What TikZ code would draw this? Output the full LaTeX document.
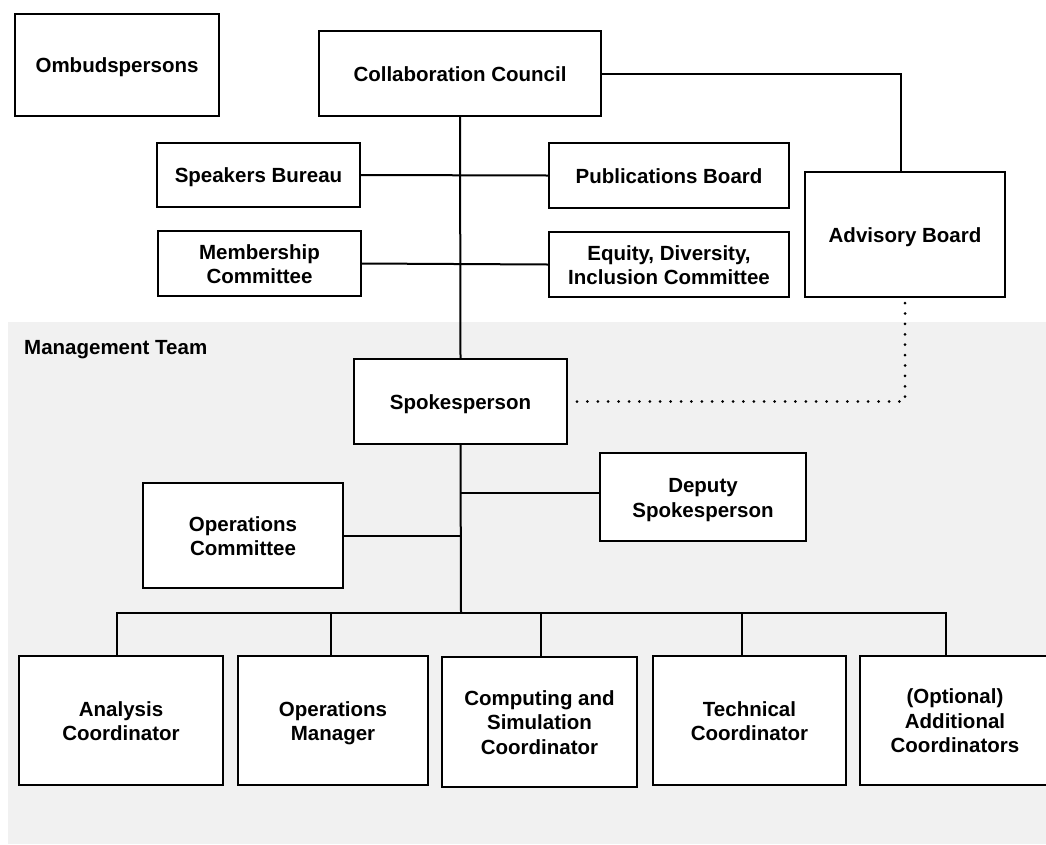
\documentclass[tikz,border=0pt]{standalone}
\usepackage{fontspec}
\setmainfont{Liberation Sans}
\definecolor{mgmtbg}{HTML}{F1F1F1}
\newcommand{\tpad}{\rule{0pt}{23.15pt}}
\begin{document}
\begin{tikzpicture}[x=1pt,y=-1pt,
  box/.style={draw, line width=2pt, fill=white, align=center, inner sep=0pt,
    font=\bfseries\fontsize{20.5}{24.5}\selectfont},
  conn/.style={line width=2pt},
  dotline/.style={line width=3pt, line cap=round, dash pattern=on 0pt off 10.4pt},
  lbl/.style={font=\bfseries\fontsize{20.5}{24.5}\selectfont, inner sep=0pt}
]
\useasboundingbox (0,0) rectangle (1046,844);
\fill[mgmtbg] (8,322) rectangle (1046,844);
\node[lbl, anchor=west] (mt) at (24,350) {Management Team};

% upper boxes
\node[box, minimum width=204pt, minimum height=102pt] (omb) at (117,65) {\tpad Ombudspersons\strut};
\node[box, minimum width=282pt, minimum height=85pt] (cc) at (460,73.5) {\tpad Collaboration Council\strut};
\node[box, minimum width=203pt, minimum height=64pt] (sb) at (258.5,175) {\tpad Speakers Bureau\strut};
\node[box, minimum width=240pt, minimum height=65pt] (pb) at (669,175.5) {\tpad Publications Board\strut};
\node[box, minimum width=203pt, minimum height=65pt] (mc) at (259.5,263.5) {\tpad Membership\\Committee\strut};
\node[box, minimum width=240pt, minimum height=65pt] (edi) at (669,264.5) {\tpad Equity, Diversity,\\Inclusion Committee\strut};
\node[box, minimum width=200pt, minimum height=125pt] (ab) at (905,234.5) {\tpad Advisory Board\strut};

% management team
\node[box, minimum width=213pt, minimum height=85pt] (spk) at (460.5,401.5) {\tpad Spokesperson\strut};
\node[box, minimum width=206pt, minimum height=88pt] (dep) at (703,497) {\tpad Deputy\\Spokesperson\strut};
\node[box, minimum width=200pt, minimum height=105pt] (opc) at (243,535.5) {\tpad Operations\\Committee\strut};

\node[box, minimum width=204pt, minimum height=129pt] (an) at (121,720.5) {\tpad Analysis\\Coordinator\strut};
\node[box, minimum width=190pt, minimum height=129pt] (om) at (333,720.5) {\tpad Operations\\Manager\strut};
\node[box, minimum width=195pt, minimum height=130pt] (cs) at (539.5,722) {\tpad Computing and\\Simulation\\Coordinator\strut};
\node[box, minimum width=193pt, minimum height=129pt] (tc) at (749.5,720.5) {\tpad Technical\\Coordinator\strut};
\node[box, minimum width=190pt, minimum height=129pt] (opt) at (955,720.5) {\tpad (Optional)\\Additional\\Coordinators\strut};

\coordinate (bus) at (461,613);

% connectors
\draw[conn] (cc.south) -- (spk.north);
\draw[conn] (sb.east) -- (pb.west);
\draw[conn] (mc.east) -- (edi.west);
\draw[conn] (cc.east) -| ([xshift=-4pt]ab.north);
\draw[dotline] ([xshift=9pt]spk.east) -| (ab.south);
\draw[conn] (spk.south) -- (bus);
\draw[conn] ([yshift=4pt]dep.west) -- ([yshift=4pt]dep.west -| spk.south);
\draw[conn] (opc.east) -- (opc.east -| spk.south);
\draw[conn] ([xshift=-4pt]an.north) |- (bus);
\draw[conn] ([xshift=-9pt]opt.north) |- (bus);
\draw[conn] ([xshift=-2pt]om.north) -- ([xshift=-2pt]om.north |- bus);
\draw[conn] ([xshift=1.5pt]cs.north) -- ([xshift=1.5pt]cs.north |- bus);
\draw[conn] ([xshift=-7.5pt]tc.north) -- ([xshift=-7.5pt]tc.north |- bus);
\end{tikzpicture}
\end{document}
